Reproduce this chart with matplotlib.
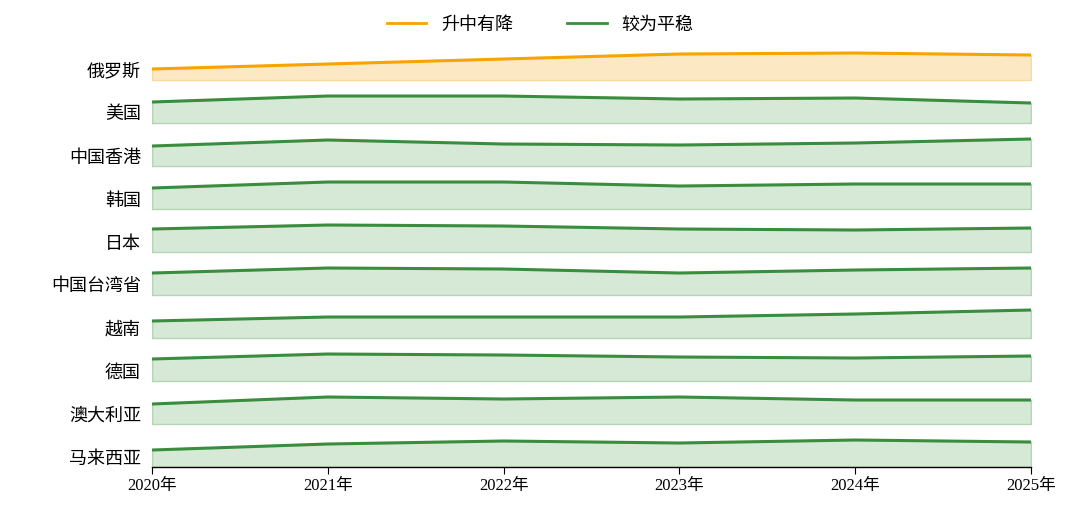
import matplotlib.pyplot as plt
from matplotlib.lines import Line2D

plt.rcParams['font.family'] = ['Liberation Serif', 'Noto Sans CJK SC']

years = [2020, 2021, 2022, 2023, 2024, 2025]
year_labels = ["2020年", "2021年", "2022年", "2023年", "2024年", "2025年"]
regions = ["俄罗斯", "美国", "中国香港", "韩国", "日本", "中国台湾省", "越南", "德国", "澳大利亚", "马来西亚"]
trend = ["up", "flat", "flat", "flat", "flat", "flat", "flat", "flat", "flat", "flat"]
values = [
    [11, 16, 21, 26, 27, 25],
    [21, 27, 27, 24, 25, 20],
    [20, 26, 22, 21, 23, 27],
    [21, 27, 27, 23, 25, 25],
    [23, 27, 26, 23, 22, 24],
    [22, 27, 26, 22, 25, 27],
    [17, 21, 21, 21, 24, 28],
    [22, 27, 26, 24, 23, 25],
    [20, 27, 25, 27, 24, 24],
    [17, 23, 26, 24, 27, 25],
]

fig = plt.figure(figsize=(10.8, 5.19), dpi=100)
ax = fig.add_axes([152 / 1080, 52 / 519, 879 / 1080, 422 / 519])
step = 43
n = len(regions)
for i, (name, t, vals) in enumerate(zip(regions, trend, values)):
    base = (n - 1 - i) * step
    if t == "up":
        lc, fc, ec = "#f7a400", "#fde8c4", "#f9d9a0"
    else:
        lc, fc, ec = "#3a8d3f", "#d6e8d6", "#b5d6b5"
    top = [base + v for v in vals]
    ax.fill_between(years, base, top, color=fc, edgecolor=ec, linewidth=1)
    ax.plot([years[0], years[0]], [base, top[0]], color=ec, lw=1)
    ax.plot([years[-1], years[-1]], [base, top[-1]], color=ec, lw=1)
    ax.plot(years, top, color=lc, lw=2.2)

ax.set_xlim(2020, 2025)
ax.set_ylim(0, 422)
ax.set_yticks([(n - 1 - i) * step + 10 for i in range(n)])
ax.set_yticklabels(regions, fontsize=13)
ax.tick_params(axis="y", length=0, pad=8)
ax.set_xticks(years)
ax.set_xticklabels(year_labels, fontsize=12)
ax.tick_params(axis="x", length=5, pad=3)
for s in ["top", "right", "left"]:
    ax.spines[s].set_visible(False)
ax.spines["bottom"].set_linewidth(1)

handles = [Line2D([], [], color="#f7a400", lw=2), Line2D([], [], color="#3a8d3f", lw=2)]
fig.legend(handles, ["升中有降", "较为平稳"], loc="center", bbox_to_anchor=(0.5, 1 - 25 / 519),
           ncol=2, frameon=False, fontsize=13, handlelength=2.2, columnspacing=3)
fig.savefig("out.png", dpi=100)
